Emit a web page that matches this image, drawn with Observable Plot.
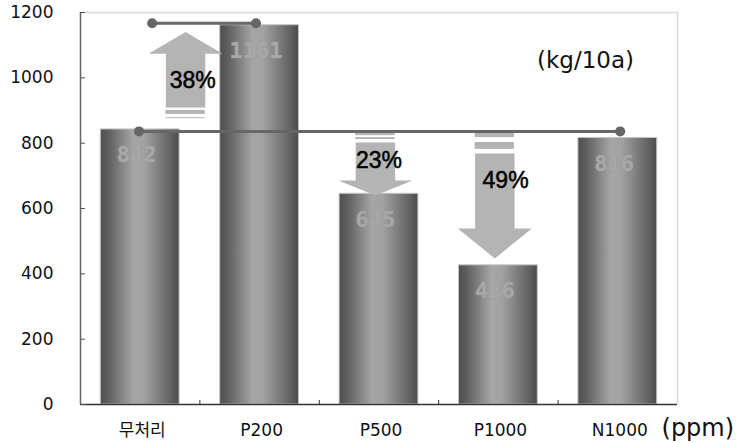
<!DOCTYPE html>
<html><head><meta charset="utf-8">
<script src="https://cdn.jsdelivr.net/npm/d3@7"></script>
<script src="https://cdn.jsdelivr.net/npm/@observablehq/plot@0.6"></script>
<style>
body{margin:0;background:#fff}
#chart svg{display:block}
g[aria-label="xlabels"] text{letter-spacing:4px}
</style>
</head><body><div id="chart"></div>
<script>
// ---- data ----
const categories = ["무처리", "P200", "P500", "P1000", "N1000"];
const values = [842, 1161, 645, 426, 816];
const yTicks = [0, 200, 400, 600, 800, 1000, 1200];
const unitLabel = "(kg/10a)";
const xUnitLabel = "(ppm)";

// change arrows (x in category-index units, y in kg/10a)
const arrowLabels = ["38%", "23%", "49%"];
const arrowCenter = [0.88, 2.47, 3.47];
const arrowTip = [1140, 640, 447];
const arrowHeadBase = [1074, 686, 539];
const arrowShaftEnd = [909, 802, 768];
const arrowStripes = [[[900, 888], [878, 875]], [[830, 823], [817, 811]], [[830, 817], [802, 781]]];
const labelX = [0.94, 2.50, 3.56];
const labelY = [992, 747, 686];

// reference lines
const refX1 = [0.60, 0.49];
const refX2 = [1.47, 4.52];
const refY = [1167, 836];

// ---- derived tables ----
const barData = categories.map((c, i) => ({c, i, v: values[i]}));
const HW = 0.31, SW = 0.165, BW = 0.33;
const arrowPts = [];
arrowCenter.forEach((cx, k) => {
  const t = arrowTip[k], hb = arrowHeadBase[k], se = arrowShaftEnd[k];
  [[cx - SW, se], [cx - SW, hb], [cx - HW, hb], [cx, t], [cx + HW, hb], [cx + SW, hb], [cx + SW, se]]
    .forEach(([x, y]) => arrowPts.push({k, x, y}));
});
const stripeData = [];
arrowStripes.forEach((s, k) => s.forEach(([a, b]) => stripeData.push({x1: arrowCenter[k] - SW, x2: arrowCenter[k] + SW, y1: a, y2: b})));
const refData = refY.map((y, k) => ({x1: refX1[k], x2: refX2[k], y}));
const refDots = refData.flatMap(d => [{x: d.x1, y: d.y}, {x: d.x2, y: d.y}]);
const pctData = arrowLabels.map((t, k) => ({t, x: labelX[k], y: labelY[k]}));

const plot = Plot.plot({
  width: 736,
  height: 443,
  marginTop: 12,
  marginBottom: 39,
  marginLeft: 80,
  marginRight: 59,
  style: {fontFamily: "DejaVu Sans", background: "#fff"},
  x: {domain: [0, 5]},
  y: {domain: [0, 1200]},
  marks: [
    Plot.ruleY([1200], {stroke: "#d8d8d8", strokeWidth: 1.5}),
    Plot.ruleX([5], {stroke: "#d8d8d8", strokeWidth: 1.5}),
    Plot.rect(barData, {x1: d => d.i + 0.5 - BW, x2: d => d.i + 0.5 + BW, y1: 0, y2: "v", fill: "url(#barGrad)", stroke: "#c4c4c4", strokeWidth: 1}),
    Plot.line(arrowPts, {x: "x", y: "y", z: "k", fill: "#b4b4b4", stroke: "none", curve: "linear"}),
    Plot.rect(stripeData, {x1: "x1", x2: "x2", y1: "y1", y2: "y2", fill: "#b4b4b4"}),
    Plot.link(refData, {x1: "x1", x2: "x2", y1: "y", y2: "y", stroke: "#666", strokeWidth: 3}),
    Plot.dot(refDots, {x: "x", y: "y", r: 5, fill: "#666", stroke: "none"}),
    Plot.text(barData, {x: d => d.i + 0.47, y: "v", dy: 26, text: d => String(d.v), fill: "#a8a8a8", stroke: "#959595", strokeWidth: 0.6, fontSize: 22, fontWeight: "bold", fontFamily: "DejaVu Sans Mono"}),
    Plot.text(pctData, {x: "x", y: "y", text: "t", fill: "#000", stroke: "#000", strokeWidth: 0.5, fontSize: 23, fontFamily: "Liberation Sans"}),
    Plot.text([unitLabel], {x: 4.23, y: 1053, text: d => d, fontSize: 23, fill: "#111"}),
    Plot.text([xUnitLabel], {x: 5.17, y: 0, dy: 24, text: d => d, fontSize: 24, fill: "#111"}),
    Plot.ruleX([0], {stroke: "#666", strokeWidth: 1.5}),
    Plot.ruleY([0], {stroke: "#333", strokeWidth: 1.5}),
    Plot.axisY({ticks: yTicks, tickSize: -5, tickPadding: 32, tickFormat: d => String(d), fontSize: 17, fill: "#111", stroke: "#555", label: null}),
    Plot.axisX({ticks: [1, 2, 3, 4], tickSize: -4, tickFormat: () => "", stroke: "#333", label: null}),
    Plot.text(barData, {ariaLabel: "xlabels", x: d => d.i + 0.5, y: 0, dy: 26, dx: 2, text: "c", fontSize: 17, fill: "#111", fontFamily: "DejaVu Sans, Noto Sans CJK KR"})
  ]
});

const defs = d3.select(plot).insert("defs", ":first-child");
const g = defs.append("linearGradient").attr("id", "barGrad").attr("x1", 0).attr("x2", 1).attr("y1", 0).attr("y2", 0);
[[0, "#4e4e4e"], [0.12, "#626262"], [0.42, "#a6a6a6"], [0.55, "#a2a2a2"], [0.85, "#6a6a6a"], [1, "#4c4c4c"]]
  .forEach(([o, c]) => g.append("stop").attr("offset", o).attr("stop-color", c));

document.getElementById("chart").appendChild(plot);
</script>
</body></html>
